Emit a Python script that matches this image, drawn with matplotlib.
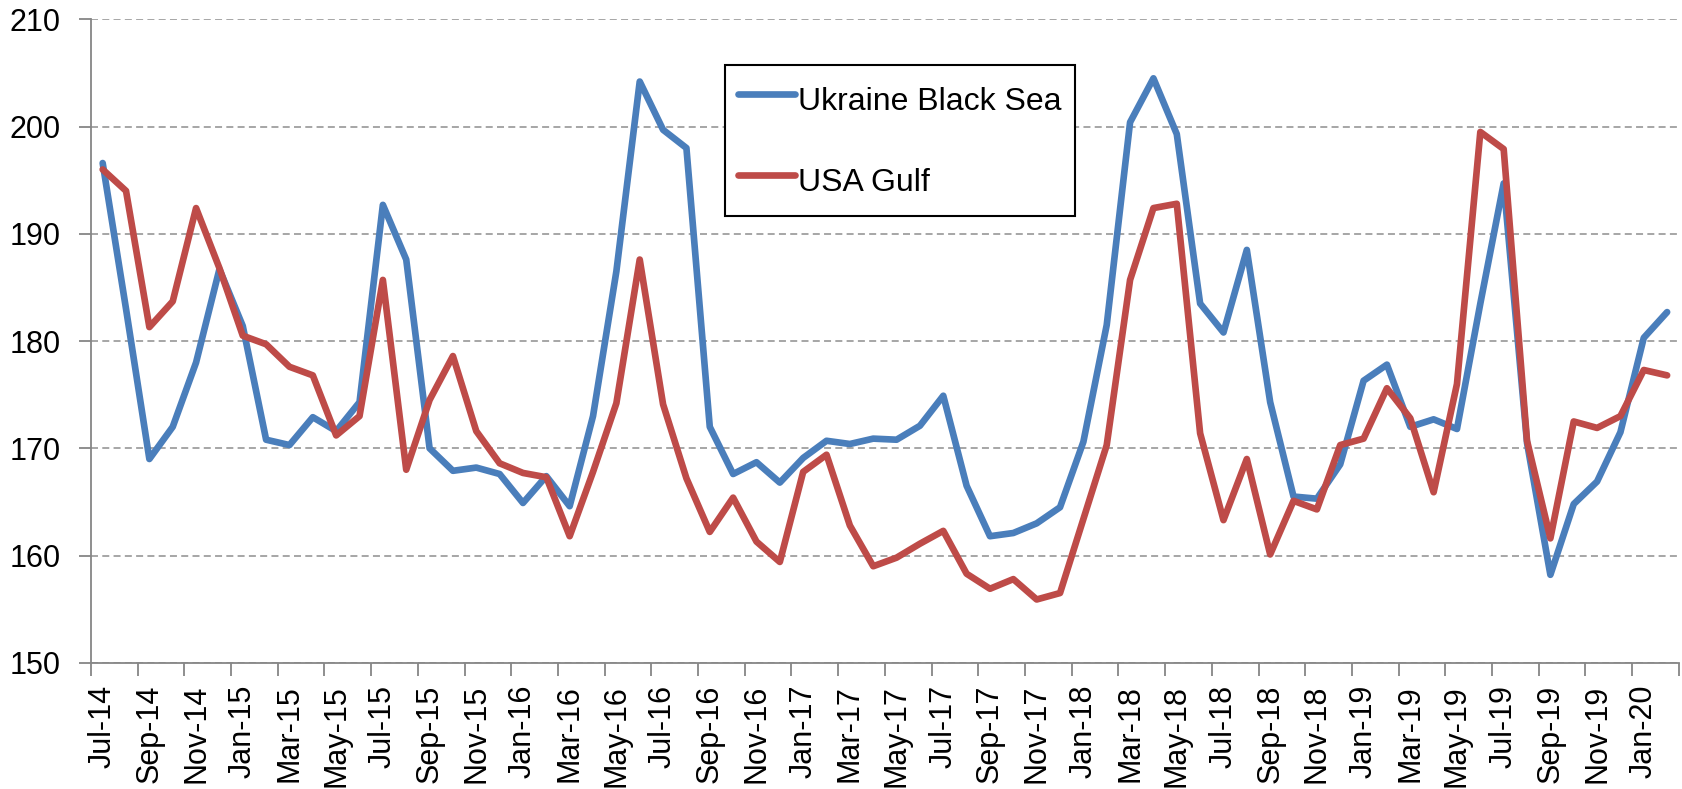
# =================
# IMPORTS
# =================
import matplotlib
matplotlib.use("Agg")
import matplotlib.pyplot as plt
import numpy as np

plt.rcParams["font.family"] = ["Liberation Sans", "DejaVu Sans"]

# =================
# DATA
# =================
months = [
    "Jul-14", "Aug-14", "Sep-14", "Oct-14", "Nov-14", "Dec-14",
    "Jan-15", "Feb-15", "Mar-15", "Apr-15", "May-15", "Jun-15",
    "Jul-15", "Aug-15", "Sep-15", "Oct-15", "Nov-15", "Dec-15",
    "Jan-16", "Feb-16", "Mar-16", "Apr-16", "May-16", "Jun-16",
    "Jul-16", "Aug-16", "Sep-16", "Oct-16", "Nov-16", "Dec-16",
    "Jan-17", "Feb-17", "Mar-17", "Apr-17", "May-17", "Jun-17",
    "Jul-17", "Aug-17", "Sep-17", "Oct-17", "Nov-17", "Dec-17",
    "Jan-18", "Feb-18", "Mar-18", "Apr-18", "May-18", "Jun-18",
    "Jul-18", "Aug-18", "Sep-18", "Oct-18", "Nov-18", "Dec-18",
    "Jan-19", "Feb-19", "Mar-19", "Apr-19", "May-19", "Jun-19",
    "Jul-19", "Aug-19", "Sep-19", "Oct-19", "Nov-19", "Dec-19",
    "Jan-20", "Feb-20",
]

ukraine = [
    196.6, 183.0, 169.0, 172.0, 178.0, 186.7,
    181.4, 170.8, 170.3, 172.9, 171.6, 174.3,
    192.7, 187.6, 170.0, 167.9, 168.2, 167.6,
    164.9, 167.4, 164.6, 173.0, 186.5, 204.2,
    199.7, 198.0, 172.0, 167.6, 168.7, 166.8,
    169.1, 170.7, 170.4, 170.9, 170.8, 172.1,
    174.9, 166.5, 161.8, 162.1, 163.0, 164.5,
    170.6, 181.5, 200.4, 204.5, 199.3, 183.5,
    180.8, 188.5, 174.3, 165.5, 165.3, 168.5,
    176.3, 177.8, 172.0, 172.7, 171.8, 183.5,
    194.7, 170.5, 158.2, 164.8, 166.9, 171.5,
    180.3, 182.7,
]

usa_gulf = [
    196.0, 194.0, 181.3, 183.7, 192.4, 186.8,
    180.5, 179.7, 177.6, 176.8, 171.2, 173.0,
    185.7, 168.0, 174.5, 178.6, 171.6, 168.6,
    167.7, 167.3, 161.8, 167.8, 174.2, 187.6,
    174.1, 167.2, 162.2, 165.4, 161.3, 159.4,
    167.8, 169.4, 162.8, 159.0, 159.8, 161.1,
    162.3, 158.3, 156.9, 157.8, 155.9, 156.5,
    163.4, 170.3, 185.7, 192.4, 192.8, 171.4,
    163.3, 169.0, 160.1, 165.1, 164.3, 170.3,
    170.9, 175.6, 172.8, 165.9, 176.0, 199.5,
    197.9, 170.7, 161.6, 172.5, 171.9, 173.0,
    177.3, 176.8,
]

# =================
# FIGURE
# =================
fig = plt.figure(figsize=(16.82, 7.89), dpi=100)
ax = fig.add_axes([0.0541, 0.160, 0.944, 0.8155])

x = np.arange(len(months))
ax.plot(x, ukraine, color="#4A7EBB", lw=4.8, label="Ukraine Black Sea",
        solid_joinstyle="round", solid_capstyle="round", zorder=3)
ax.plot(x, usa_gulf, color="#BE4B48", lw=4.8, label="USA Gulf",
        solid_joinstyle="round", solid_capstyle="round", zorder=3)

# =================
# AXES
# =================
ax.set_xlim(-0.5, len(months) - 0.5)
ax.set_ylim(150, 210)
ax.set_yticks(np.arange(150, 211, 10))

# labels at category centres, tick marks at category edges
ax.set_xticks(x[::2])
ax.set_xticklabels(months[::2], rotation=90)
ax.set_xticks(np.arange(-0.5, len(months), 2), minor=True)
ax.tick_params(axis="x", which="major", length=0, pad=16, labelsize=22)
ax.tick_params(axis="x", which="minor", length=9, width=1.3, color="#868686")
ax.tick_params(axis="y", length=9, width=1.3, color="#868686", pad=13,
               labelsize=22)

for side in ["top", "right"]:
    ax.spines[side].set_visible(False)
for side in ["left", "bottom"]:
    ax.spines[side].set_color("#868686")
    ax.spines[side].set_linewidth(1.3)

ax.yaxis.grid(True, linestyle=(0, (3.6, 2.2)), color="#A6A6A6", lw=1.4)
ax.set_axisbelow(True)

# =================
# LEGEND
# =================
leg = ax.legend(loc="upper left", bbox_to_anchor=(725 / 1682, 1 - 65 / 789),
                bbox_transform=fig.transFigure, fontsize=23,
                frameon=True, fancybox=False, edgecolor="black",
                framealpha=1, handlelength=1.8, handletextpad=0.1,
                handleheight=1.77, labelspacing=1.13, borderpad=0.4,
                borderaxespad=0)
leg.get_frame().set_linewidth(1.5)

fig.savefig("out.png", dpi=100)
